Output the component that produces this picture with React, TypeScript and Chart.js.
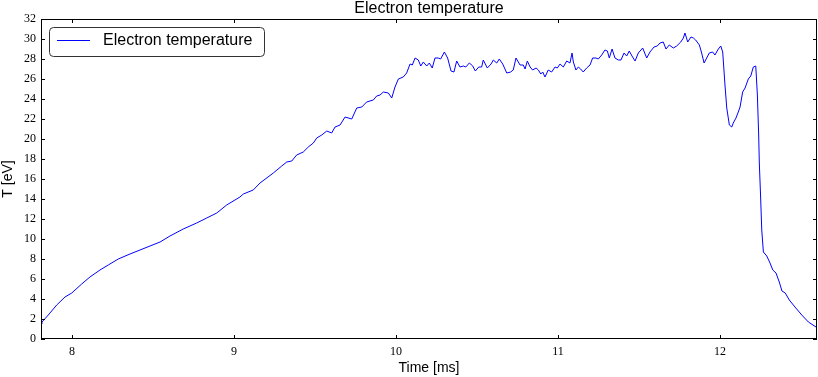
import { useEffect, useRef } from 'react';
import { Chart, registerables } from 'chart.js';

Chart.register(...registerables);

const chartTitle = 'Electron temperature';
const seriesLabel = 'Electron temperature';
const xAxisLabel = 'Time [ms]';
const yAxisLabel = 'T [eV]';

const xTicks = [8, 9, 10, 11, 12];
const yTicks = [0, 2, 4, 6, 8, 10, 12, 14, 16, 18, 20, 22, 24, 26, 28, 30, 32];
const xRange = [7.809, 12.599];
const yRange = [0, 32];

const timeMs = [
  7.809, 7.815, 7.854, 7.906, 7.957, 7.999, 8.060, 8.111, 8.173, 8.224, 8.286, 8.358, 8.420, 8.482,
  8.544, 8.605, 8.687, 8.770, 8.832, 8.894, 8.955, 9.037, 9.058, 9.119, 9.161, 9.243, 9.295, 9.326,
  9.357, 9.387, 9.428, 9.459, 9.490, 9.511, 9.542, 9.573, 9.603, 9.624, 9.655, 9.686, 9.727, 9.758,
  9.789, 9.819, 9.860, 9.881, 9.902, 9.922, 9.953, 9.974, 9.994, 10.015, 10.045, 10.066, 10.087,
  10.101, 10.118, 10.138, 10.153, 10.169, 10.190, 10.206, 10.224, 10.241, 10.261, 10.276, 10.299,
  10.319, 10.340, 10.358, 10.375, 10.395, 10.416, 10.431, 10.453, 10.474, 10.490, 10.511, 10.529,
  10.539, 10.564, 10.587, 10.601, 10.622, 10.638, 10.659, 10.684, 10.708, 10.724, 10.741, 10.766,
  10.786, 10.797, 10.811, 10.828, 10.844, 10.865, 10.879, 10.894, 10.906, 10.920, 10.940, 10.961,
  10.982, 10.996, 11.013, 11.033, 11.054, 11.074, 11.087, 11.095, 11.111, 11.126, 11.140, 11.156,
  11.177, 11.198, 11.214, 11.235, 11.249, 11.270, 11.290, 11.305, 11.317, 11.334, 11.352, 11.373,
  11.389, 11.408, 11.424, 11.440, 11.457, 11.476, 11.496, 11.523, 11.548, 11.568, 11.593, 11.613,
  11.630, 11.650, 11.667, 11.687, 11.712, 11.733, 11.758, 11.774, 11.784, 11.801, 11.821, 11.836,
  11.850, 11.873, 11.887, 11.902, 11.918, 11.934, 11.955, 11.969, 11.990, 12.005, 12.017, 12.031,
  12.042, 12.058, 12.073, 12.082, 12.099, 12.113, 12.124, 12.140, 12.155, 12.175, 12.190, 12.206,
  12.221, 12.231, 12.239, 12.243, 12.251, 12.258, 12.268, 12.289, 12.309, 12.326, 12.346, 12.366,
  12.383, 12.403, 12.428, 12.463, 12.505, 12.546, 12.593,
];

const tempEv = [
  1.5, 1.7, 2.4, 3.4, 4.2, 4.6, 5.5, 6.2, 6.9, 7.4, 8.0, 8.5, 8.9, 9.3,
  9.7, 10.3, 11.0, 11.6, 12.1, 12.6, 13.4, 14.2, 14.5, 14.9, 15.6, 16.6, 17.3, 17.7,
  17.8, 18.4, 18.7, 19.2, 19.6, 20.1, 20.4, 20.8, 20.6, 21.2, 21.4, 22.2, 22.0, 23.1,
  23.2, 23.7, 23.9, 24.3, 24.4, 24.7, 24.6, 24.1, 25.2, 26.0, 26.2, 26.6, 27.5,
  27.4, 28.1, 27.9, 27.3, 27.7, 27.3, 27.6, 27.1, 28.1, 28.1, 28.0, 28.7,
  28.1, 26.8, 26.7, 27.8, 27.2, 27.3, 27.2, 27.6, 27.3, 26.8, 27.2, 27.2,
  27.9, 27.1, 27.5, 27.9, 27.6, 28.0, 27.5, 26.6, 26.7, 26.9, 28.1, 27.4,
  27.4, 27.0, 27.8, 27.2, 26.9, 27.1, 26.9, 26.5, 26.7, 26.2, 26.9, 26.7,
  27.2, 27.1, 27.5, 27.2, 27.8, 27.6, 28.6, 27.7, 26.9, 27.2, 27.0, 26.7,
  27.1, 27.4, 28.1, 28.1, 28.0, 28.4, 28.9, 28.8, 28.1, 29.0, 28.1, 27.9,
  27.9, 28.6, 28.3, 28.8, 28.3, 27.8, 28.6, 29.1, 28.1, 28.7, 29.2, 29.3,
  29.6, 29.7, 29.0, 29.4, 29.1, 29.3, 29.7, 30.1, 30.6, 29.7, 30.2, 30.1,
  29.9, 29.4, 28.6, 27.6, 28.1, 28.6, 28.7, 28.4, 29.0, 29.3, 28.7, 25.4,
  23.1, 21.4, 21.2, 21.6, 22.1, 22.7, 23.2, 24.7, 25.1, 26.0, 26.3, 27.2,
  27.3, 24.4, 20.4, 17.6, 14.2, 10.9, 8.7, 8.3, 7.6, 6.9, 6.6, 5.7,
  4.8, 4.6, 3.9, 3.2, 2.4, 1.7, 1.2,
];

const LINE_COLOR = '#0000ff';
const SANS = '"Liberation Sans", Arial, sans-serif';
const SERIF = '"Liberation Serif", "DejaVu Serif", serif';

const decorPlugin = {
  id: 'mplDecor',
  afterDraw(chart: any) {
    const { ctx, chartArea } = chart;
    const { left, right, top, bottom } = chartArea;
    const xs = chart.scales.x;
    const ys = chart.scales.y;
    ctx.save();
    // frame
    ctx.strokeStyle = '#000';
    ctx.lineWidth = 1;
    ctx.strokeRect(Math.round(left) + 0.5, Math.round(top) + 0.5, Math.round(right - left) - 1, Math.round(bottom - top) - 1);
    // inward ticks
    const tl = 4;
    ctx.beginPath();
    xTicks.forEach((v) => {
      const px = Math.round(xs.getPixelForValue(v)) + 0.5;
      ctx.moveTo(px, bottom);
      ctx.lineTo(px, bottom - tl);
      ctx.moveTo(px, top);
      ctx.lineTo(px, top + tl);
    });
    yTicks.forEach((v) => {
      const py = Math.round(ys.getPixelForValue(v)) + 0.5;
      ctx.moveTo(left, py);
      ctx.lineTo(left + tl, py);
      ctx.moveTo(right, py);
      ctx.lineTo(right - tl, py);
    });
    ctx.stroke();

    // title
    ctx.fillStyle = '#000';
    ctx.font = `16px ${SANS}`;
    ctx.textAlign = 'center';
    ctx.textBaseline = 'alphabetic';
    ctx.fillText(chartTitle, (left + right) / 2, 13);

    // x axis label
    ctx.font = `14px ${SANS}`;
    ctx.textBaseline = 'middle';
    ctx.fillText(xAxisLabel, (left + right) / 2, 368);

    // y axis label
    ctx.save();
    ctx.translate(8, (top + bottom) / 2);
    ctx.rotate(-Math.PI / 2);
    ctx.fillText(yAxisLabel, 0, 0);
    ctx.restore();

    // legend
    const bx = 49.5, by = 27.5, bw = 215, bh = 29;
    ctx.beginPath();
    ctx.roundRect(bx, by, bw, bh, 4);
    ctx.fillStyle = '#fff';
    ctx.fill();
    ctx.strokeStyle = '#333';
    ctx.lineWidth = 1;
    ctx.stroke();
    ctx.beginPath();
    ctx.strokeStyle = LINE_COLOR;
    ctx.moveTo(57, 40.5);
    ctx.lineTo(90, 40.5);
    ctx.stroke();
    ctx.fillStyle = '#000';
    ctx.font = `16px ${SANS}`;
    ctx.textAlign = 'left';
    ctx.textBaseline = 'middle';
    ctx.fillText(chart.data.datasets[0].label, 103, 41);
    ctx.restore();
  },
};

export default function App() {
  const ref = useRef<HTMLCanvasElement | null>(null);
  useEffect(() => {
    document.body.style.margin = '0';
    const canvas = ref.current;
    if (!canvas) return;
    const chart = new Chart(canvas, {
      type: 'line',
      data: {
        datasets: [
          {
            label: seriesLabel,
            data: timeMs.map((t, i) => ({ x: t, y: tempEv[i] })),
            borderColor: LINE_COLOR,
            borderWidth: 1,
            pointRadius: 0,
            tension: 0,
            fill: false,
          },
        ],
      },
      options: {
        responsive: false,
        animation: false,
        layout: { padding: { top: 19, right: 1, left: 0, bottom: 0 } },
        plugins: {
          legend: { display: false },
          title: { display: false },
          tooltip: { enabled: false },
        },
        scales: {
          x: {
            type: 'linear',
            min: xRange[0],
            max: xRange[1],
            grid: { display: false, drawTicks: false },
            border: { display: false },
            afterBuildTicks: (s: any) => {
              s.ticks = xTicks.map((v) => ({ value: v }));
            },
            afterFit: (s: any) => {
              s.height = 38;
            },
            ticks: {
              includeBounds: false,
              padding: 6,
              maxRotation: 0,
              autoSkip: false,
              color: '#000',
              font: { family: SERIF, size: 12 },
            },
          },
          y: {
            type: 'linear',
            min: yRange[0],
            max: yRange[1],
            grid: { display: false, drawTicks: false },
            border: { display: false },
            afterBuildTicks: (s: any) => {
              s.ticks = yTicks.map((v) => ({ value: v }));
            },
            afterFit: (s: any) => {
              s.width = 41;
            },
            ticks: {
              padding: 5,
              autoSkip: false,
              color: '#000',
              font: { family: SERIF, size: 12 },
            },
          },
        },
      },
      plugins: [decorPlugin],
    });
    return () => chart.destroy();
  }, []);
  return (
    <div style={{ position: 'relative', width: 818, height: 377 }}>
      <canvas ref={ref} width={818} height={377} style={{ display: 'block' }} />
    </div>
  );
}
